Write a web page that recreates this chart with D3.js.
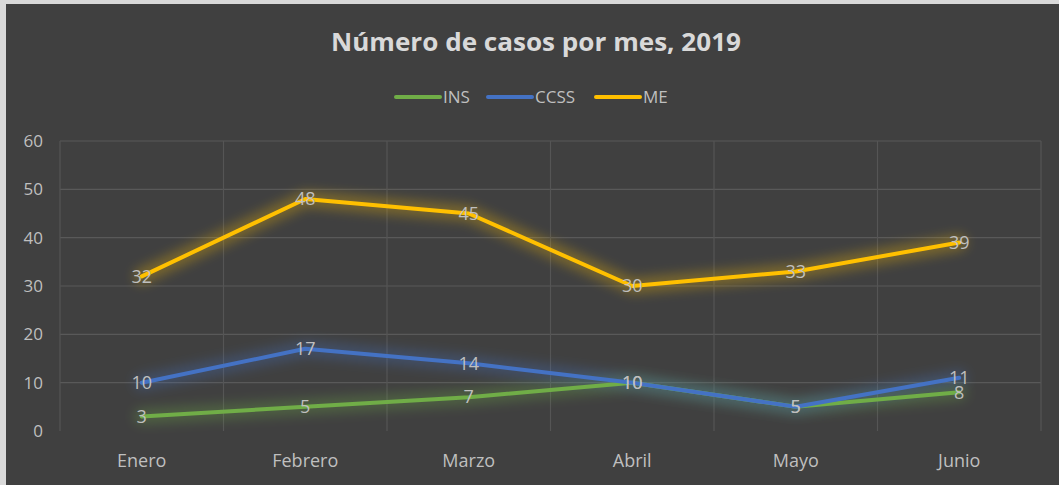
<!DOCTYPE html>
<html lang="es">
<head>
<meta charset="UTF-8">
<title>Número de casos por mes, 2019</title>
<script src="https://d3js.org/d3.v7.min.js"></script>
<style>
    body { margin: 0; background: #ffffff; }
    svg { display: block; font-family: "Open Sans", "Noto Sans", sans-serif; }
</style>
</head>
<body>
<svg id="chart" width="1059" height="485"></svg>
<script>
    // datos
    const meses = ["Enero", "Febrero", "Marzo", "Abril", "Mayo", "Junio"];
    const ins = [3, 5, 7, 10, 5, 8];
    const ccss = [10, 17, 14, 10, 5, 11];
    const me = [32, 48, 45, 30, 33, 39];
    const yTicks = [0, 10, 20, 30, 40, 50, 60];

    const series = [
        { name: "INS", values: ins, color: "#70ad47" },
        { name: "CCSS", values: ccss, color: "#4472c4" },
        { name: "ME", values: me, color: "#ffc000" }
    ];

    const W = 1059, H = 485;
    const svg = d3.select("#chart");

    // fondo y borde
    svg.append("rect").attr("width", W).attr("height", H).attr("fill", "#d9d9d9");
    svg.append("rect").attr("x", 6).attr("y", 4).attr("width", W - 6).attr("height", H - 4)
        .attr("fill", "#404040");

    const plot = { left: 60, right: 1041, top: 141, bottom: 431 };

    const x = d3.scaleBand().domain(meses).range([plot.left, plot.right]);
    const y = d3.scaleLinear().domain([0, 60]).range([plot.bottom, plot.top]);

    // filtros de brillo
    const defs = svg.append("defs");
    series.forEach((s, i) => {
        const f = defs.append("filter").attr("id", "glow" + i)
            .attr("x", "-10%").attr("y", "-50%").attr("width", "120%").attr("height", "200%");
        f.append("feGaussianBlur").attr("in", "SourceGraphic").attr("stdDeviation", 6).attr("result", "b");
        f.append("feComponentTransfer").attr("in", "b")
            .append("feFuncA").attr("type", "linear").attr("slope", 0.3);
    });

    // cuadrícula
    const grid = svg.append("g");
    grid.selectAll(".h").data(yTicks.filter(d => d > 0)).enter().append("line")
        .attr("x1", plot.left).attr("x2", plot.right)
        .attr("y1", d => y(d)).attr("y2", d => y(d))
        .attr("stroke", "#595959").attr("stroke-width", 1.2);
    const vx = meses.map(m => x(m)).concat([plot.right]);
    grid.selectAll(".v").data(vx).enter().append("line")
        .attr("x1", d => d).attr("x2", d => d)
        .attr("y1", plot.top).attr("y2", plot.bottom)
        .attr("stroke", "#555555").attr("stroke-width", 1.2);

    // eje y
    svg.append("g").selectAll("text").data(yTicks).enter().append("text")
        .attr("x", 43).attr("y", d => y(d)).attr("dy", "0.35em")
        .attr("text-anchor", "end").attr("fill", "#bfbfbf").attr("font-size", 17)
        .text(d => d);

    // eje x
    svg.append("g").selectAll("text").data(meses).enter().append("text")
        .attr("x", d => x(d) + x.bandwidth() / 2).attr("y", 461).attr("dy", "0.35em")
        .attr("text-anchor", "middle").attr("fill", "#bfbfbf").attr("font-size", 18)
        .text(d => d);

    const line = d3.line()
        .x((d, i) => x(meses[i]) + x.bandwidth() / 2)
        .y(d => y(d));

    // brillo
    series.forEach((s, i) => {
        svg.append("path").datum(s.values).attr("d", line)
            .attr("fill", "none").attr("stroke", s.color).attr("stroke-width", 16)
            .attr("stroke-linejoin", "round").attr("stroke-linecap", "round")
            .attr("filter", "url(#glow" + i + ")");
    });

    // líneas
    series.forEach(s => {
        svg.append("path").datum(s.values).attr("d", line)
            .attr("fill", "none").attr("stroke", s.color).attr("stroke-width", 4)
            .attr("stroke-linejoin", "round").attr("stroke-linecap", "round");
    });

    // etiquetas de datos
    series.forEach(s => {
        svg.append("g").selectAll("text").data(s.values).enter().append("text")
            .attr("x", (d, i) => x(meses[i]) + x.bandwidth() / 2)
            .attr("y", d => y(d)).attr("dy", "0.35em")
            .attr("text-anchor", "middle").attr("fill", "#bfbfbf").attr("font-size", 18)
            .text(d => d);
    });

    // título
    svg.append("text").attr("x", 536).attr("y", 42).attr("dy", "0.35em")
        .attr("text-anchor", "middle").attr("fill", "#d9d9d9")
        .attr("font-size", 25).attr("font-weight", "bold")
        .attr("textLength", 410).attr("lengthAdjust", "spacingAndGlyphs")
        .text("Número de casos por mes, 2019");

    // leyenda
    const legX = [396, 488, 596];
    const leg = svg.append("g").selectAll("g").data(series).enter().append("g")
        .attr("transform", (d, i) => `translate(${legX[i]},97)`);
    leg.append("line").attr("x1", 0).attr("x2", 44).attr("y1", 0).attr("y2", 0)
        .attr("stroke", d => d.color).attr("stroke-width", 4).attr("stroke-linecap", "round");
    leg.append("text").attr("x", 47).attr("dy", "0.35em")
        .attr("fill", "#bfbfbf").attr("font-size", 17).text(d => d.name);
</script>
</body>
</html>
